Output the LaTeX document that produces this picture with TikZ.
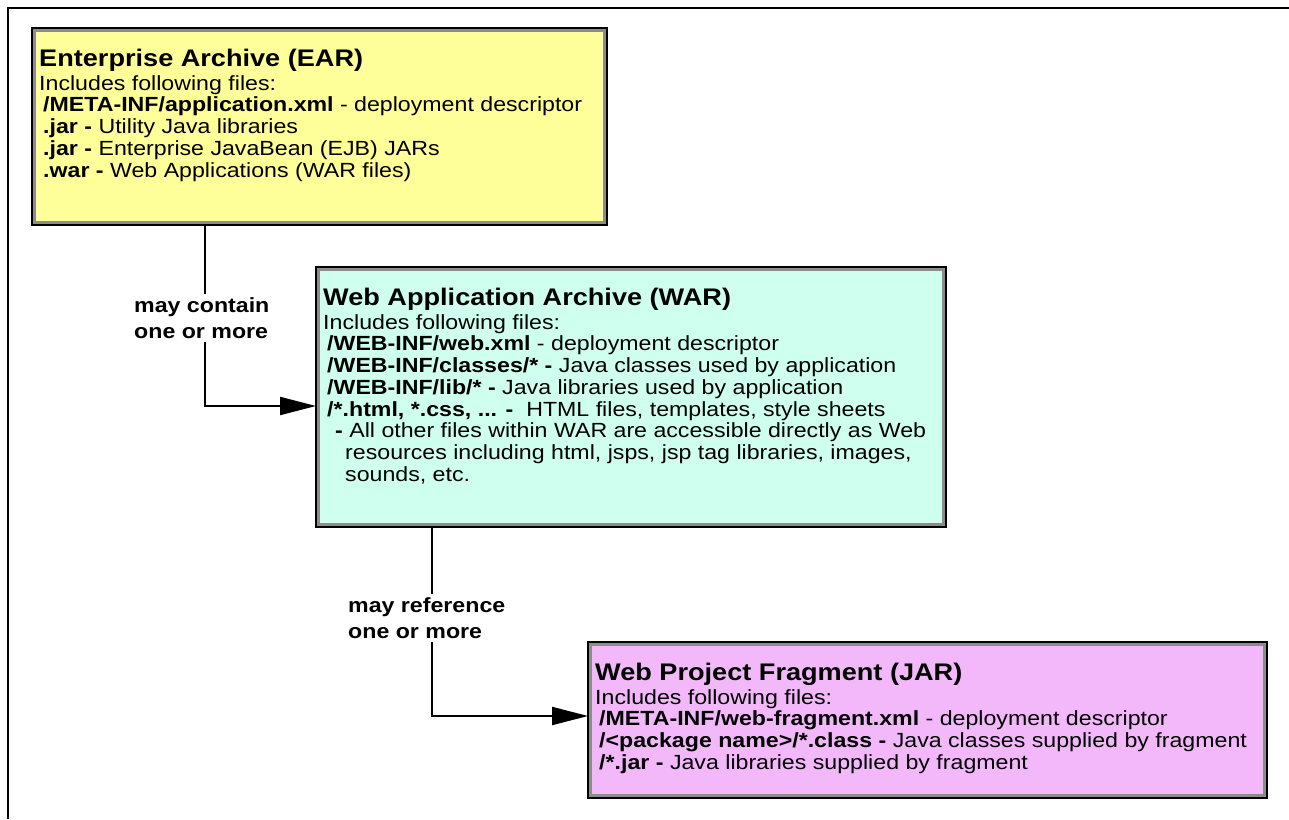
\documentclass[tikz,border=0pt]{standalone}
\usepackage{fontspec}
\setmainfont{Liberation Sans}[FakeStretch=1.13]
\usetikzlibrary{arrows.meta,calc}

\definecolor{earfill}{RGB}{255,255,153}
\definecolor{warfill}{RGB}{206,255,239}
\definecolor{jarfill}{RGB}{243,184,250}
\definecolor{rim}{RGB}{140,140,140}

\newcommand\boxtitle{\bfseries\fontsize{24}{24}\selectfont}
\newcommand\firstline{\rule{0pt}{26pt}}
\newcommand\ind{\hspace*{4pt}}

\tikzset{
  archive/.style={draw=black, line width=2pt, anchor=north west,
    inner sep=0pt, outer sep=0pt,
    path picture={\draw[rim, line width=8pt]
      (path picture bounding box.south west) rectangle
      (path picture bounding box.north east);}},
  body/.style={anchor=north west, align=left, inner sep=0pt,
    font=\fontsize{20.5}{21.7}\selectfont},
  conn/.style={line width=2pt, -{Triangle[length=36pt,width=18pt]}},
  linklabel/.style={fill=white, align=left, inner sep=3pt, anchor=west,
    font=\bfseries\fontsize{20.5}{26}\selectfont},
}

\begin{document}
\begin{tikzpicture}[x=1pt, y=-1pt]
\useasboundingbox (0,0) rectangle (1289,819);

% page frame: top and left edges only
\draw[line width=1.5pt] (8,819) -- (8,8) -- (1289,8);

% archive boxes
\node[archive, fill=earfill, minimum width=575pt, minimum height=197pt] (ear) at (32,28) {};
\node[archive, fill=warfill, minimum width=630pt, minimum height=260pt] (war) at (316,267) {};
\node[archive, fill=jarfill, minimum width=679pt, minimum height=156pt] (jar) at (588,642) {};

% box contents (title baseline 38pt below the top edge)
\node[body] (eartext) at ($(ear.north west)+(7,12)$) {%
  \firstline{\boxtitle Enterprise Archive (EAR)}\\[2.3pt]
  Includes following files:\\
  \ind\textbf{/META-INF/application.xml} - deployment descriptor\\
  \ind\textbf{.jar -} Utility Java libraries\\
  \ind\textbf{.jar -} Enterprise JavaBean (EJB) JARs\\
  \ind\textbf{.war -} Web Applications (WAR files)};

\node[body] (wartext) at ($(war.north west)+(7,12)$) {%
  \firstline{\boxtitle Web Application Archive (WAR)}\\[2.3pt]
  Includes following files:\\
  \ind\textbf{/WEB-INF/web.xml} - deployment descriptor\\
  \ind\textbf{/WEB-INF/classes/* -} Java classes used by application\\
  \ind\textbf{/WEB-INF/lib/* -} Java libraries used by application\\
  \ind\textbf{/*.html, *.css, ... -}\ \ HTML files, templates, style sheets\\
  \hspace*{12pt}\textbf{-} All other files within WAR are accessible directly as Web\\
  \hspace*{22pt}resources including html, jsps, jsp tag libraries, images,\\
  \hspace*{22pt}sounds, etc.};

\node[body] (jartext) at ($(jar.north west)+(7,12)$) {%
  \firstline{\boxtitle Web Project Fragment (JAR)}\\[2.3pt]
  Includes following files:\\
  \ind\textbf{/META-INF/web-fragment.xml} - deployment descriptor\\
  \ind\textbf{/<package name>/*.class -} Java classes supplied by fragment\\
  \ind\textbf{/*.jar -} Java libraries supplied by fragment};

% connectors
\coordinate (bend1) at (205,406);
\coordinate (bend2) at (432,716);
\draw[conn] (bend1 |- ear.south) |- (bend1 -| war.west);
\draw[conn] (bend2 |- war.south) |- (bend2 -| jar.west);

% connector labels
\node[linklabel] (lab1) at (131,318) {may contain\\one or more};
\node[linklabel] (lab2) at (345,618) {may reference\\one or more};
\end{tikzpicture}
\end{document}
